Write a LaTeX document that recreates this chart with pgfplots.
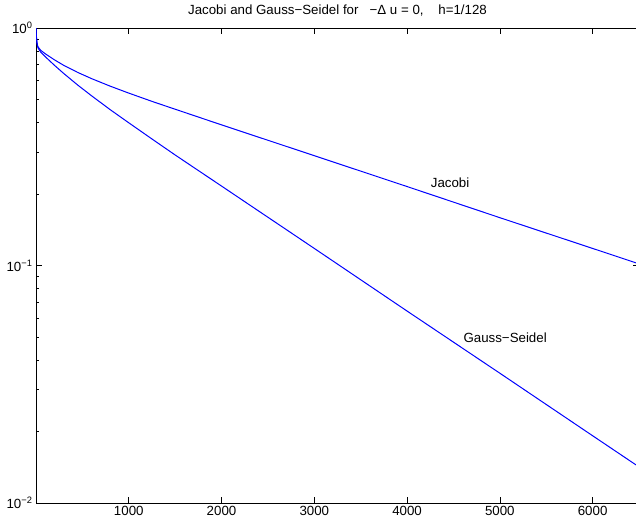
\documentclass[border=0pt]{standalone}
\usepackage{pgfplots}
\pgfplotsset{compat=1.18}
\usepackage{fontspec}
\setmainfont{Liberation Sans}
\definecolor{mblue}{RGB}{0,0,255}
\begin{document}
\begin{tikzpicture}[font=\fontsize{13.3bp}{16bp}\selectfont]
\begin{axis}[
  at={(0,0)}, anchor=south west,
  scale only axis, width=603bp, height=475bp,
  ymode=log, xmin=0, xmax=6500, ymin=0.01, ymax=1,
  xtick={1000,2000,3000,4000,5000,6000},
  xticklabels={1000,2000,3000,4000,5000,6000},
  ytick={0.01,0.1,1},
  yticklabels={10\textsuperscript{−2},10\textsuperscript{−1},10\textsuperscript{0}},
  tick align=inside,
  major tick length=6bp, minor tick length=3bp,
  axis line style={line width=0.8bp},
  every tick/.style={black, line width=0.6bp},
  title={Jacobi and Gauss−Seidel for \ \ −Δ u = 0, \ \ \ h=1/128},
  title style={yshift=2bp},
]
\addplot[mblue, line width=1bp] coordinates {
(0,1) (2,0.955) (5,0.917) (10,0.873) (20,0.835) (50,0.806) (100,0.779)
(200,0.734) (300,0.696) (450,0.650) (600,0.612) (800,0.569) (1000,0.532)
(1250,0.491) (1500,0.455) (2000,0.391) (3000,0.290) (4000,0.215)
(5000,0.159) (6000,0.118) (6500,0.1016)
};
\addplot[mblue, line width=1bp] coordinates {
(0,1) (2,0.955) (5,0.912) (10,0.866) (20,0.826) (50,0.792) (100,0.757)
(200,0.696) (300,0.643) (450,0.575) (600,0.518) (800,0.453) (1000,0.399)
(1250,0.341) (1500,0.292) (2000,0.216) (3000,0.118) (4000,0.0643)
(5000,0.0352) (6000,0.0192) (6500,0.01419)
};
\node at (axis cs:4464,0.223) {Jacobi};
\node at (axis cs:5057,0.0495) {Gauss−Seidel};
\end{axis}
\pgfresetboundingbox
\path (-36bp,-20bp) rectangle (600bp,503bp);
\end{tikzpicture}
\end{document}
